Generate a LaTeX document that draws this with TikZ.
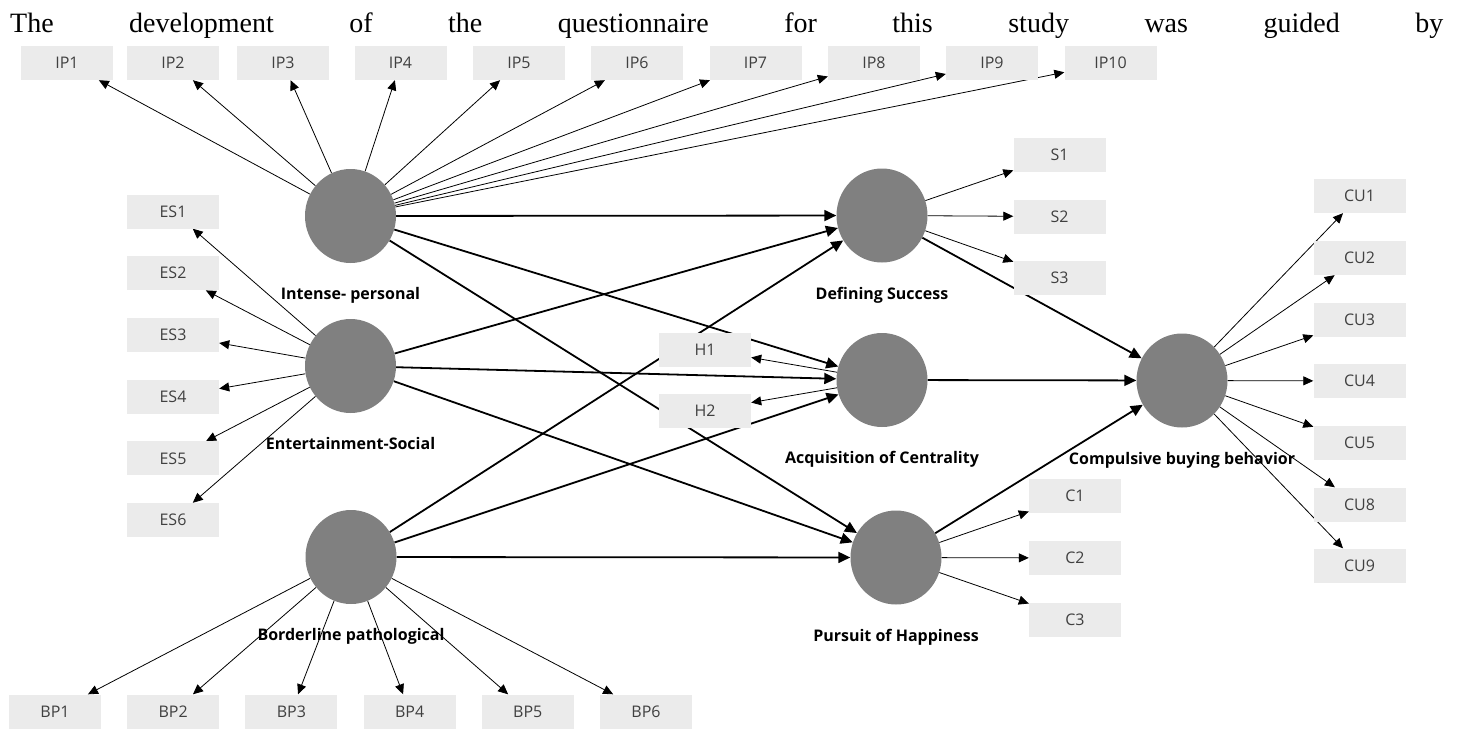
\documentclass[tikz,border=0pt]{standalone}
\usepackage{fontspec}
\setmainfont{Liberation Serif}
\newfontfamily\uifont{Open Sans}
\usetikzlibrary{arrows.meta,shapes.geometric,positioning,backgrounds}
\definecolor{latgray}{HTML}{808080}
\definecolor{boxgray}{HTML}{EBEBEB}
\definecolor{txtgray}{HTML}{404040}
\begin{document}
\begin{tikzpicture}[x=1pt,y=-1pt,
	ind/.style={fill=boxgray,minimum width=92pt,minimum height=34pt,inner sep=0pt,text=txtgray,font=\uifont\fontsize{16}{16}\selectfont},
	lat/.style={ellipse,fill=latgray,minimum width=91pt,minimum height=94pt,inner sep=0pt},
	latlabel/.style={below=24pt of #1,inner sep=0pt,font=\uifont\bfseries\fontsize{16}{16}\selectfont},
	load/.style={-{Triangle[length=10pt,width=9pt]},line width=0.8pt},
	effect/.style={-{Triangle[length=12pt,width=11pt]},line width=1.8pt}]
	\useasboundingbox (0,0) rectangle (1466,728);
	\node[anchor=base west,inner sep=0pt,font=\fontsize{28}{28}\selectfont] (intro) at (10,32) {\makebox[1433pt][s]{The development of the questionnaire for this study was guided by}};
	
	\node[lat] (IPc) at (350.5,216) {};
	\node[latlabel=IPc] (IPl) {Intense- personal};
	\node[lat] (ESc) at (350.5,366) {};
	\node[latlabel=ESc] (ESl) {Entertainment-Social};
	\node[lat] (BPc) at (351,557) {};
	\node[latlabel=BPc] (BPl) {Borderline pathological};
	\node[lat] (DSc) at (882,215.5) {};
	\node[latlabel=DSc] (DSl) {Defining Success};
	\node[lat] (ACc) at (882,380) {};
	\node[latlabel=ACc] (ACl) {Acquisition of Centrality};
	\node[lat] (PHc) at (896,557.5) {};
	\node[latlabel=PHc] (PHl) {Pursuit of Happiness};
	\node[lat] (CBc) at (1182,380.5) {};
	\node[latlabel=CBc] (CBl) {Compulsive buying behavior};
	
	\foreach \i/\x in {1/67,2/173,3/283,4/400.5,5/519,6/637,7/755.5,8/874,9/992,10/1110.5}
		\node[ind] (IP\i) at (\x,63) {IP\i};
	\foreach \i in {1,...,6}
		\node[ind] (ES\i) at (173,{211.5+61.7*(\i-1)}) {ES\i};
	\foreach \i in {1,...,6}
		\node[ind] (BP\i) at ({55+118.2*(\i-1)},711.5) {BP\i};
	\foreach \i/\y in {1/154.5,2/216.5,3/278}
		\node[ind] (S\i) at (1059.5,\y) {S\i};
	\foreach \i/\y in {1/495.5,2/558,3/619.5}
		\node[ind] (C\i) at (1075,\y) {C\i};
	\foreach \i/\y in {1/196,2/258,3/319.5,4/381,5/443,8/504.5,9/565.5}
		\node[ind] (CU\i) at (1359.5,\y) {CU\i};
	\node[ind] (H1) at (705,349.5) {H1};
	\node[ind] (H2) at (705,410.5) {H2};
	
	\begin{scope}[on background layer]
		\foreach \i in {1,...,10} \draw[load] (IPc) -- (IP\i);
		\foreach \i in {1,...,6} \draw[load] (ESc) -- (ES\i);
		\foreach \i in {1,...,6} \draw[load] (BPc) -- (BP\i);
		\foreach \i in {1,2,3} \draw[load] (DSc) -- (S\i);
		\foreach \i in {1,2,3} \draw[load] (PHc) -- (C\i);
		\foreach \i in {1,2,3,4,5,8,9} \draw[load] (CBc) -- (CU\i);
		\draw[load] (ACc) -- (H1);
		\draw[load] (ACc) -- (H2);
		\foreach \a/\b in {IPc/DSc,IPc/ACc,IPc/PHc,ESc/DSc,ESc/ACc,ESc/PHc,BPc/DSc,BPc/ACc,BPc/PHc,DSc/CBc,ACc/CBc,PHc/CBc}
			\draw[effect] (\a) -- (\b);
	\end{scope}
\end{tikzpicture}
\end{document}
